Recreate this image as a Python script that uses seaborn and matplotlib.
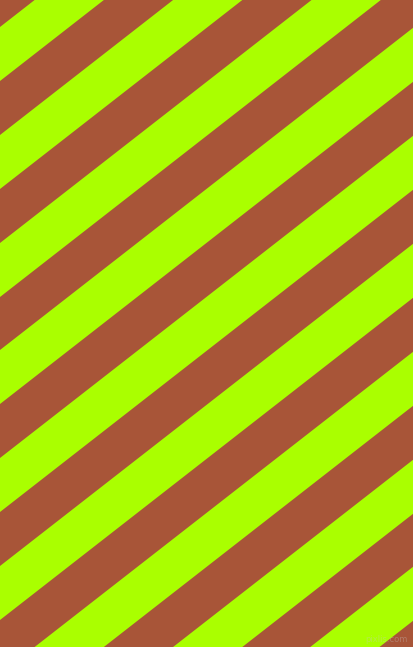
import matplotlib
matplotlib.use("Agg")
import matplotlib.pyplot as plt
import seaborn as sns
import numpy as np

# Stripe boundaries: y where each boundary meets the left edge (pixels, top = 0)
boundary_left_y = [-27, 27, 81, 135, 189, 243, 297, 350, 404, 458, 512,
                   566, 620, 674, 728, 782, 836, 889, 943, 997]
# colour of band between consecutive boundaries
band_colors = ["#A85538", "#AAFF00"]
slope = 0.78          # pixels of rise per pixel to the right
width_px, height_px = 414, 647

sns.set_theme(style="white")
fig = plt.figure(figsize=(width_px / 100, height_px / 100), dpi=100,
                 facecolor=band_colors[0])
ax = fig.add_axes([0, 0, 1, 1])

xs = np.array([-10.0, float(width_px) + 10.0])
for i in range(len(boundary_left_y) - 1):
    if i % 2 == 0:
        continue  # brown bands come from the background
    top = boundary_left_y[i] - slope * xs
    bot = boundary_left_y[i + 1] - slope * xs
    ax.fill_between(xs, top, bot, color=band_colors[i % 2], linewidth=0)

ax.text(408, 639, "pixlis.com", ha="right", va="center", fontsize=6,
        color="#C8C8C8", alpha=0.35)

ax.set_xlim(0, width_px)
ax.set_ylim(height_px, 0)
ax.axis("off")
fig.savefig("out.png", dpi=100, facecolor=band_colors[0])
